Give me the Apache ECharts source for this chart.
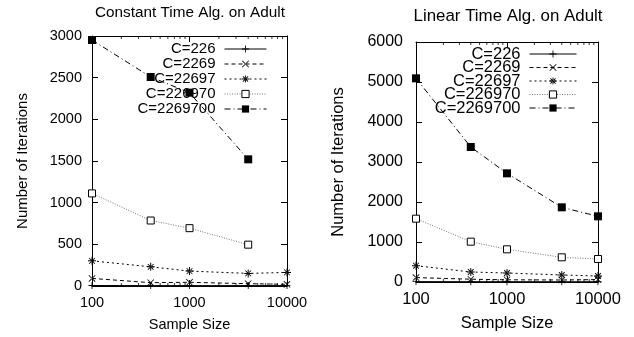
<!DOCTYPE html>
<html>
<head>
<meta charset="utf-8">
<script src="https://cdn.jsdelivr.net/npm/echarts@6/dist/echarts.min.js"></script>
<style>html,body{margin:0;padding:0;background:#fff}#c{width:634px;height:337px}</style>
</head>
<body>
<div id="c"></div>
<script>
var sampleSizes = [100, 400, 1000, 4000, 10000];
var seriesNames = ['C=226', 'C=2269', 'C=22697', 'C=226970', 'C=2269700'];
// Constant time algorithm
var constC226     = [6, 5, 5, 5, 5];
var constC2269    = [91, 40, 44, 28, 20];
var constC22697   = [302, 230, 179, 151, 163];
var constC226970  = [1111, 786, 694, 496, null];
var constC2269700 = [2952, 2508, 2320, 1520, null];
// Linear time algorithm
var linC226     = [10, 8, 8, 7, 7];
var linC2269    = [110, 70, 55, 50, 60];
var linC22697   = [408, 250, 225, 175, 150];
var linC226970  = [1583, 1008, 817, 617, 575];
var linC2269700 = [5092, 3375, 2717, 1867, 1642];
// minor tick positions of the log x axis
var minorXTicks = [200, 300, 400, 500, 600, 700, 800, 900, 2000, 3000, 4000, 5000, 6000, 7000, 8000, 9000];

var FONT = 'Liberation Sans';
var SYM_PLUS = 'path://M4.4,0h1.2v10h-1.2z M0,4.4h10v1.2h-10z';
var SYM_X = 'path://M0,0.8L0.8,0L10,9.2L9.2,10Z M10,0.8L9.2,0L0,9.2L0.8,10Z';
var SYM_STAR = 'path://M4.4,0h1.2v10h-1.2z M0,4.4h10v1.2h-10z M1,1.8L1.8,1L9,8.2L8.2,9Z M9,1.8L8.2,1L1,8.2L1.8,9Z';

var styles = [
  {symbol: SYM_PLUS, size: 7, fill: '#000', border: 0, line: '#000', type: 'solid'},
  {symbol: SYM_X, size: 7, fill: '#000', border: 0, line: '#000', type: [4, 3]},
  {symbol: SYM_STAR, size: 8, fill: '#000', border: 0, line: '#000', type: [2, 3]},
  {symbol: 'rect', size: 7, fill: '#fff', border: 1, line: '#777', type: [1, 1.5]},
  {symbol: 'rect', size: 8, fill: '#000', border: 0, line: '#000', type: [6, 3, 1, 3]}
];

function pairs(vals) {
  var out = [];
  for (var i = 0; i < sampleSizes.length; i++) {
    if (vals[i] !== null) out.push([sampleSizes[i], vals[i]]);
  }
  return out;
}

function makeSeries(idx, sets) {
  return sets.map(function (vals, i) {
    var s = styles[i];
    return {
      type: 'line', name: seriesNames[i], xAxisIndex: idx * 2, yAxisIndex: idx * 2,
      data: pairs(vals), symbol: s.symbol, symbolSize: s.size, showAllSymbol: true,
      itemStyle: {color: s.fill, borderColor: '#000', borderWidth: s.border},
      lineStyle: {color: s.line, width: 1, type: s.type},
      z: 3 + i, clip: true, silent: true
    };
  });
}

function minorTickSeries(idx, ymax) {
  var bottom = minorXTicks.map(function (v) { return [v, 0]; });
  var top = minorXTicks.map(function (v) { return [v, ymax]; });
  var base = {type: 'scatter', xAxisIndex: idx * 2, yAxisIndex: idx * 2, symbol: 'rect',
    symbolSize: [1, 3], itemStyle: {color: '#000'}, silent: true, z: 10, clip: false};
  return [
    Object.assign({}, base, {name: 'minorB' + idx, data: bottom, symbolOffset: [0, -1.5]}),
    Object.assign({}, base, {name: 'minorT' + idx, data: top, symbolOffset: [0, 1.5]})
  ];
}

function fmt(v) { return String(Math.round(v)); }

function xAxes(gi, fs, labelMargin, nameGap) {
  var base = {
    gridIndex: gi, type: 'log', logBase: 10, min: 100, max: 10000, interval: 1,
    axisLine: {show: true, onZero: false, lineStyle: {color: '#000', width: 1}},
    axisTick: {show: true, inside: true, length: 6, lineStyle: {color: '#000'}},
    minorTick: {show: false}, splitLine: {show: false}
  };
  var bottom = Object.assign({}, base, {
    position: 'bottom',
    axisLabel: {color: '#000', fontFamily: FONT, fontSize: fs, margin: labelMargin, formatter: fmt},
    name: 'Sample Size', nameLocation: 'middle', nameGap: nameGap,
    nameTextStyle: {color: '#000', fontFamily: FONT, fontSize: fs}
  });
  var top = Object.assign({}, base, {position: 'top', axisLabel: {show: false}});
  return [bottom, top];
}

function yAxes(gi, max, interval, fs, labelMargin, nameFs, nameGap) {
  var base = {
    gridIndex: gi, type: 'value', min: 0, max: max, interval: interval,
    axisLine: {show: true, onZero: false, lineStyle: {color: '#000', width: 1}},
    axisTick: {show: true, inside: true, length: 6, lineStyle: {color: '#000'}},
    splitLine: {show: false}
  };
  var left = Object.assign({}, base, {
    position: 'left',
    axisLabel: {color: '#000', fontFamily: FONT, fontSize: fs, margin: labelMargin, formatter: fmt},
    name: 'Number of Iterations', nameLocation: 'middle', nameGap: nameGap,
    nameTextStyle: {color: '#000', fontFamily: FONT, fontSize: nameFs}
  });
  var right = Object.assign({}, base, {position: 'right', axisLabel: {show: false}});
  return [left, right];
}

// one legend per entry so each row sits exactly where the reference puts it
function legends(centers, right, iconW, fs) {
  return seriesNames.map(function (name, i) {
    return {
      orient: 'vertical', align: 'right', top: centers[i] - 8, right: right, padding: 0,
      itemWidth: iconW, itemHeight: 9, itemGap: 0,
      data: [name], selectedMode: false,
      lineStyle: {width: 1},
      itemStyle: {borderWidth: styles[i].border, borderColor: '#000'},
      textStyle: {color: '#000', fontFamily: FONT, fontSize: fs, lineHeight: 16, padding: [0, 4, 0, 0]}
    };
  });
}

var xa = xAxes(0, 14.5, 9, 31).concat(xAxes(1, 16.5, 9, 33));
var ya = yAxes(0, 3000, 500, 14.5, 10, 15, 62).concat(yAxes(1, 6000, 1000, 16, 13, 16.5, 69));

var option = {
  animation: false,
  backgroundColor: '#fff',
  textStyle: {fontFamily: FONT},
  title: [
    {text: 'Constant Time Alg. on Adult', left: 190, top: 5, textAlign: 'center', padding: 0,
     textStyle: {color: '#000', fontFamily: FONT, fontSize: 15.3, fontWeight: 'normal'}},
    {text: 'Linear Time Alg. on Adult', left: 508, top: 8, textAlign: 'center', padding: 0,
     textStyle: {color: '#000', fontFamily: FONT, fontSize: 16.9, fontWeight: 'normal'}}
  ],
  grid: [
    {left: 92, top: 36, width: 195, height: 250},
    {left: 416, top: 42, width: 182, height: 240}
  ],
  xAxis: xa,
  yAxis: ya,
  legend: legends([49, 64, 79, 94, 109], 367, 42, 15).concat(legends([53.5, 67, 80.5, 94, 107.5], 57, 47, 16.5)),
  series: makeSeries(0, [constC226, constC2269, constC22697, constC226970, constC2269700])
    .concat(makeSeries(1, [linC226, linC2269, linC22697, linC226970, linC2269700]))
    .concat(minorTickSeries(0, 3000)).concat(minorTickSeries(1, 6000))
};

var chart = echarts.init(document.getElementById('c'), null, {renderer: 'canvas'});
chart.setOption(option);
</script>
</body>
</html>
